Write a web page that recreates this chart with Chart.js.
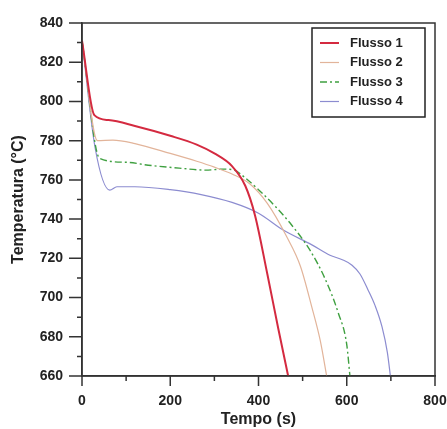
<!DOCTYPE html>
<html>
<head>
<meta charset="utf-8">
<script src="https://cdn.jsdelivr.net/npm/chart.js@4"></script>
<style>
    html, body { margin: 0; padding: 0; background: #fff; overflow: hidden; }
    #wrap { width: 447px; height: 429px; }
</style>
</head>
<body>
<div id="wrap"><canvas id="chart" width="447" height="429"></canvas></div>
<script>
// Data (time in s, temperature in °C)
const labels = ['Flusso 1', 'Flusso 2', 'Flusso 3', 'Flusso 4'];
const colors = ['#d42a40', '#e2b49a', '#3fa040', '#8c8cd0'];

const t1 = [0, 28, 60, 120, 200, 260, 300, 340, 370, 392, 420, 445, 470];
const y1 = [831, 793, 790.5, 787.5, 782.5, 778, 773.5, 767, 757, 742, 712, 684, 657];

const t2 = [0, 35, 70, 120, 200, 260, 300, 340, 380, 420, 464, 495, 521, 540, 556];
const y2 = [831, 780, 780.3, 778.5, 773.5, 769.5, 766.5, 763, 758, 748, 731, 716, 695, 678, 658];

const t3 = [0, 40, 100, 150, 220, 280, 320, 345, 370, 400, 440, 475, 517, 550, 581, 600, 608];
const y3 = [831, 771, 769, 767.5, 766, 765, 765.5, 765, 761, 755, 746, 737, 724, 710, 692, 676, 658];

const t4 = [0, 30, 63, 79, 120, 200, 270, 340, 400, 456, 520, 562, 590, 612, 630, 648, 664, 680, 692, 700];
const y4 = [831, 776, 754.8, 756.5, 756.5, 755, 752.5, 748.5, 743, 734.4, 727, 721.6, 719.3, 716.5, 712, 704, 696, 685, 672, 658];

const xTicks = [0, 200, 400, 600, 800];
const yTicks = [660, 680, 700, 720, 740, 760, 780, 800, 820, 840];

function pairs(xs, ys) {
    return xs.map((x, i) => ({ x: x, y: ys[i] }));
}

const FONT = 'Liberation Sans, Arial, sans-serif';

// Frame, tick marks and legend box
const framePlugin = {
    id: 'frame',
    afterDraw(chart) {
        const ctx = chart.ctx;
        const a = chart.chartArea;
        const xs = chart.scales.x;
        const ys = chart.scales.y;
        ctx.save();
        ctx.strokeStyle = '#333';
        ctx.lineWidth = 1.5;
        ctx.strokeRect(a.left, a.top, a.right - a.left, a.bottom - a.top);

        ctx.beginPath();
        for (let v = 0; v <= 800; v += 100) {
            const px = xs.getPixelForValue(v);
            const len = v % 200 === 0 ? 10 : 5;
            ctx.moveTo(px, a.bottom);
            ctx.lineTo(px, a.bottom + len);
        }
        for (let v = 660; v <= 840; v += 10) {
            const py = ys.getPixelForValue(v);
            const len = v % 20 === 0 ? 13 : 5;
            ctx.moveTo(a.left, py);
            ctx.lineTo(a.left - len, py);
        }
        ctx.stroke();

        // legend
        const lx = 312, ly = 28, lw = 113, lh = 89;
        ctx.fillStyle = '#fff';
        ctx.fillRect(lx, ly, lw, lh);
        ctx.strokeStyle = '#222';
        ctx.lineWidth = 1.5;
        ctx.strokeRect(lx, ly, lw, lh);
        ctx.font = 'bold 13px ' + FONT;
        ctx.textBaseline = 'middle';
        chart.data.datasets.forEach((ds, i) => {
            const ry = ly + 15 + i * 19.5;
            ctx.beginPath();
            ctx.strokeStyle = ds.borderColor;
            ctx.lineWidth = ds.borderWidth;
            ctx.setLineDash(ds.borderDash || []);
            ctx.moveTo(lx + 8, ry);
            ctx.lineTo(lx + 27, ry);
            ctx.stroke();
            ctx.setLineDash([]);
            ctx.fillStyle = '#222';
            ctx.fillText(ds.label, lx + 38, ry);
        });
        ctx.restore();
    }
};

const series = [[t1, y1], [t2, y2], [t3, y3], [t4, y4]];
const widths = [2, 1.2, 1.4, 1.2];
const dashes = [[], [], [7, 3, 2, 3], []];

new Chart(document.getElementById('chart').getContext('2d'), {
    type: 'line',
    data: {
        datasets: series.map((s, i) => ({
            label: labels[i],
            data: pairs(s[0], s[1]),
            borderColor: colors[i],
            borderWidth: widths[i],
            borderDash: dashes[i],
            pointRadius: 0,
            fill: false,
            cubicInterpolationMode: 'monotone'
        }))
    },
    options: {
        responsive: false,
        animation: false,
        layout: {
            padding: { top: 23, left: 9, bottom: 0, right: 12 }
        },
        plugins: {
            legend: { display: false },
            tooltip: { enabled: false }
        },
        scales: {
            x: {
                type: 'linear',
                min: 0,
                max: 800,
                afterBuildTicks: scale => {
                    scale.ticks = xTicks.map(v => ({ value: v }));
                },
                afterFit: scale => {
                    scale.height = 53;
                    scale.paddingLeft = 0;
                    scale.paddingRight = 0;
                },
                grid: { display: false, drawTicks: false },
                border: { display: true, color: '#333', width: 1.5 },
                ticks: {
                    padding: 17,
                    color: '#222',
                    font: { family: FONT, size: 14, weight: 'bold' }
                },
                title: {
                    display: true,
                    text: 'Tempo (s)',
                    color: '#222',
                    padding: { top: 1, bottom: 0 },
                    font: { family: FONT, size: 16, weight: 'bold' }
                }
            },
            y: {
                type: 'linear',
                min: 660,
                max: 840,
                afterBuildTicks: scale => {
                    scale.ticks = yTicks.map(v => ({ value: v }));
                },
                afterFit: scale => {
                    scale.width = 73;
                    scale.paddingTop = 0;
                    scale.paddingBottom = 0;
                },
                grid: { display: false, drawTicks: false },
                border: { display: true, color: '#333', width: 1.5 },
                ticks: {
                    padding: 19,
                    color: '#222',
                    font: { family: FONT, size: 14, weight: 'bold' }
                },
                title: {
                    display: true,
                    text: 'Temperatura (°C)',
                    color: '#222',
                    padding: { top: 0, bottom: 11 },
                    font: { family: FONT, size: 16, weight: 'bold' }
                }
            }
        }
    },
    plugins: [framePlugin]
});
</script>
</body>
</html>
